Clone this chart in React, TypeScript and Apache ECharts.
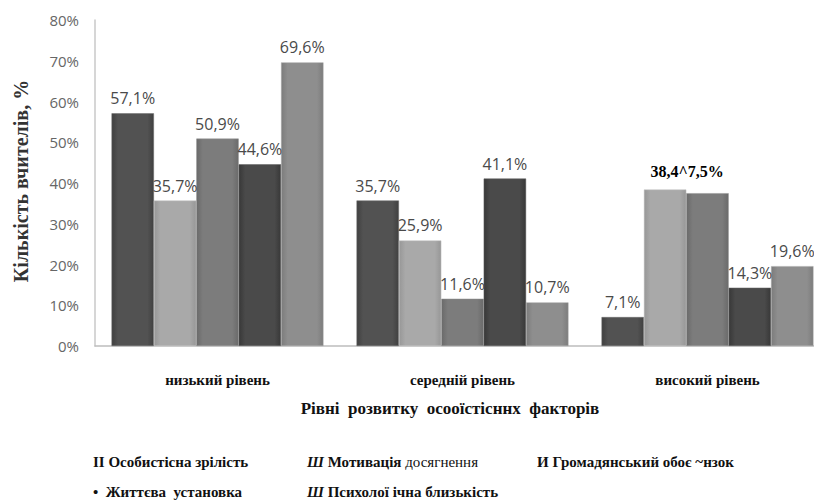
import React, { useEffect, useRef } from "react";
import * as echarts from "echarts";

const categories = ["низький рівень", "середній рівень", "високий рівень"];
const seriesNames = [
  "Особистісна зрілість",
  "Мотивація досягнення",
  "Громадянський обовʼязок",
  "Життєва установка",
  "Психологічна близькість",
];
const s1 = [57.1, 35.7, 7.1];
const s2 = [35.7, 25.9, 38.4];
const s3 = [50.9, 11.6, 37.5];
const s4 = [44.6, 41.1, 14.3];
const s5 = [69.6, 10.7, 19.6];
const seriesValues = [s1, s2, s3, s4, s5];
const seriesColors = ["#525252", "#a9a9a9", "#7c7c7c", "#4a4a4a", "#8e8e8e"];
const mergedLabelText = "38,4^7,5%"; // combined label printed over two bars of the 3rd group
const yTicks = [0, 10, 20, 30, 40, 50, 60, 70, 80];
const xAxisTitle = "Рівні  розвитку  осооїстісннх  факторів";
const yAxisTitle = "Кількість вчителів, %";

const fmt = (v: number) => v.toFixed(1).replace(".", ",") + "%";

function shade(hex: string, amt: number) {
  const n = parseInt(hex.slice(1), 16);
  const r = Math.max(0, Math.min(255, ((n >> 16) & 255) + amt));
  const g = Math.max(0, Math.min(255, ((n >> 8) & 255) + amt));
  const b = Math.max(0, Math.min(255, (n & 255) + amt));
  return `rgb(${r},${g},${b})`;
}

export default function App() {
  const ref = useRef<HTMLDivElement>(null);
  useEffect(() => {
    if (!ref.current) return;
    const chart = echarts.init(ref.current, undefined, { renderer: "svg" });
    const serif = "Liberation Serif";
    const series = seriesValues.map((vals, si) => ({
      name: seriesNames[si],
      type: "bar",
      barGap: "0%",
      barCategoryGap: "13.5%",
      itemStyle: {
        color: new echarts.graphic.LinearGradient(0, 0, 1, 0, [
          { offset: 0, color: shade(seriesColors[si], -18) },
          { offset: 0.15, color: seriesColors[si] },
          { offset: 0.85, color: seriesColors[si] },
          { offset: 1, color: shade(seriesColors[si], -18) },
        ]),
        borderColor: shade(seriesColors[si], 25),
        borderWidth: 0.5,
      },
      label: {
        show: true,
        position: "top",
        distance: 7,
        fontFamily: "Open Sans",
        fontSize: 16,
        color: "#4a4a4a",
        formatter: (p: any) => fmt(p.value),
      },
      data: vals.map((v, ci) => {
        if (ci === 2 && si === 1) {
          return {
            value: v,
            label: {
              show: true,
              formatter: mergedLabelText,
              fontFamily: serif,
              fontWeight: "bold",
              fontSize: 16,
              color: "#000",
              offset: [22, -3],
            },
          };
        }
        if (ci === 2 && si === 2) {
          return { value: v, label: { show: false } };
        }
        return v;
      }),
    }));

    const legendText = (x: number, y: number, rich: string) => ({
      type: "text",
      x,
      y,
      style: {
        text: rich,
        fontFamily: serif,
        fontSize: 15,
        fontWeight: "bold",
        fill: "#111",
        textVerticalAlign: "middle",
        rich: {
          b: { fontFamily: serif, fontSize: 15, fontWeight: "bold", fill: "#111" },
          i: { fontFamily: serif, fontSize: 15, fontWeight: "bold", fontStyle: "italic", fill: "#111" },
          r: { fontFamily: serif, fontSize: 15, fontWeight: "normal", fill: "#111" },
        },
      },
    });

    chart.setOption({
      animation: false,
      backgroundColor: "#fff",
      grid: {
        left: 95,
        width: 735,
        top: 20,
        bottom: 154,
        containLabel: false,
        outerBoundsMode: "none",
      },
      xAxis: {
        type: "category",
        data: categories,
        axisLine: { show: true, lineStyle: { color: "#bdbdbd", width: 1.5 } },
        axisTick: { show: false },
        axisLabel: {
          margin: 26,
          fontFamily: serif,
          fontWeight: "bold",
          fontSize: 15,
          color: "#111",
        },
      },
      yAxis: {
        type: "value",
        min: yTicks[0],
        max: yTicks[yTicks.length - 1],
        interval: 10,
        axisLine: { show: true, lineStyle: { color: "#c8c8c8", width: 1.5 } },
        axisTick: { show: false },
        splitLine: { show: false },
        axisLabel: {
          margin: 16,
          fontFamily: "Open Sans",
          fontSize: 15,
          color: "#666",
          formatter: (v: number) => v + "%",
        },
      },
      series,
      graphic: [
        {
          type: "text",
          x: 21,
          y: 181,
          rotation: Math.PI / 2,
          style: {
            text: yAxisTitle,
            fontFamily: serif,
            fontWeight: "bold",
            fontSize: 20,
            fill: "#333",
            textAlign: "center",
            textVerticalAlign: "middle",
          },
        },
        {
          type: "text",
          x: 450,
          y: 408,
          style: {
            text: xAxisTitle,
            fontFamily: serif,
            fontWeight: "bold",
            fontSize: 17,
            fill: "#111",
            textAlign: "center",
            textVerticalAlign: "middle",
          },
        },
        legendText(93, 462, "{b|II Особистісна зрілість}"),
        legendText(307, 462, "{i|Ш}{b| Мотивація }{r|досягнення}"),
        legendText(537, 462, "{b|И Громадянський обоє ~нзок}"),
        legendText(93, 492, "{b|•  Життєва  установка}"),
        legendText(307, 492, "{i|Ш}{b| Психолої ічна близькість}"),
      ],
    });
    return () => chart.dispose();
  }, []);
  return (
    <div
      ref={ref}
      style={{ position: "absolute", left: 0, top: 0, width: 814, height: 500 }}
    />
  );
}
